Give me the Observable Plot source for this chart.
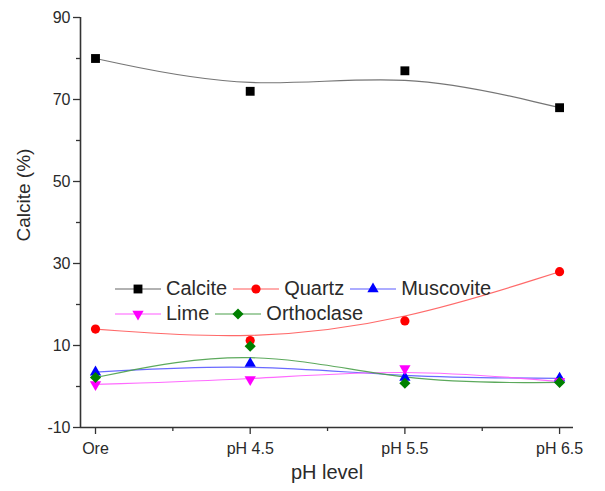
<!DOCTYPE html>
<html>
<head>
<meta charset="utf-8">
<script src="https://cdn.jsdelivr.net/npm/d3@7"></script>
<script src="https://cdn.jsdelivr.net/npm/@observablehq/plot@0.6"></script>
<style>
  html, body { margin: 0; padding: 0; background: #fff; }
  #wrap { position: relative; width: 605px; height: 491px; font-family: "Liberation Sans", Arial, sans-serif; }
  #legend { position: absolute; left: 115px; top: 276px; font-size: 20px; color: #2a2a2a; line-height: 25px; }
  .row { display: flex; align-items: center; white-space: nowrap; height: 25px; }
  .item { display: flex; align-items: center; margin-right: 6px; }
  .item svg { margin-right: 5px; }
</style>
</head>
<body>
<div id="wrap"><div id="legend"></div></div>
<script>
// ---- data ----
const categories = ["Ore", "pH 4.5", "pH 5.5", "pH 6.5"];
const calcite    = [80, 72, 77, 68];
const quartz     = [14, 11.2, 16, 28];
const muscovite  = [3.5, 5.6, 2.2, 2];
const lime       = [0.5, 1.7, 4.4, 1.2];
const orthoclase = [2.2, 9.8, 0.8, 1];
const seriesNames = ["Calcite", "Quartz", "Muscovite", "Lime", "Orthoclase"];
const yMajorTicks = [-10, 10, 30, 50, 70, 90];
const yMinorTicks = [0, 20, 40, 60, 80];
const xMinorTicks = [0.5, 1.5, 2.5];

// ---- styles ----
const styles = {
  Calcite:    {values: calcite,    symbol: "square",   fill: "#000000", line: "#666666", r: 5,   rotate: 0},
  Quartz:     {values: quartz,     symbol: "circle",   fill: "#ff0000", line: "#ff5a5a", r: 4.6, rotate: 0},
  Muscovite:  {values: muscovite,  symbol: "triangle", fill: "#0000ff", line: "#5a5aff", r: 4.2, rotate: 0},
  Lime:       {values: lime,       symbol: "triangle", fill: "#ff00ff", line: "#ff5aff", r: 4.2, rotate: 180},
  Orthoclase: {values: orthoclase, symbol: "diamond2", fill: "#008000", line: "#4aa04a", r: 5,   rotate: 0}
};

const xDomain = [-0.097, 3.09];
const yDomain = [-10, 90];

const marks = [];
marks.push(Plot.axisY(yMinorTicks, {tickSize: 4, tickFormat: () => "", label: null, stroke: "#333", strokeWidth: 1.3}));
marks.push(Plot.axisY(yMajorTicks, {tickSize: 7, tickPadding: 3, fontSize: 16, label: null, tickFormat: d => String(d),
  stroke: "#333", strokeWidth: 1.3, fill: "#2a2a2a"}));
marks.push(Plot.axisX(xMinorTicks, {tickSize: 4, tickFormat: () => "", label: null, stroke: "#333", strokeWidth: 1.3}));
marks.push(Plot.axisX(d3.range(categories.length), {tickSize: 7, tickPadding: 8, fontSize: 16, label: null,
  tickFormat: i => categories[i], stroke: "#333", strokeWidth: 1.3, fill: "#2a2a2a"}));
marks.push(Plot.ruleX([xDomain[0]], {stroke: "#333", strokeWidth: 1.6}));
marks.push(Plot.ruleY([yDomain[0]], {stroke: "#333", strokeWidth: 1.6}));

for (const name of seriesNames) {
  const s = styles[name];
  const data = s.values.map((v, i) => ({i, v}));
  marks.push(Plot.line(data, {x: "i", y: "v", curve: "basis", stroke: s.line, strokeWidth: 1.2, strokeOpacity: 0.9}));
}
for (const name of seriesNames) {
  const s = styles[name];
  const data = s.values.map((v, i) => ({i, v}));
  marks.push(Plot.dot(data, {x: "i", y: "v", symbol: () => s.symbol, fill: s.fill, stroke: "none", r: s.r, rotate: s.rotate}));
}

marks.push(Plot.text(["Calcite (%)"], {frameAnchor: "left", rotate: -90, dx: -57, dy: 19, fontSize: 19, fill: "#2a2a2a"}));
marks.push(Plot.text(["pH level"], {frameAnchor: "bottom", dy: 51, fontSize: 20, fill: "#2a2a2a"}));

const chart = Plot.plot({
  width: 605,
  height: 491,
  marginLeft: 80,
  marginRight: 32,
  marginTop: 17,
  marginBottom: 64,
  x: {domain: xDomain, axis: null},
  y: {domain: yDomain, axis: null},
  style: {fontFamily: "Liberation Sans, Arial, sans-serif", fontSize: "16px", background: "white", overflow: "visible"},
  marks
});
document.getElementById("wrap").prepend(chart);

// ---- legend (two rows, inside plot) ----
const legendRows = [["Calcite", "Quartz", "Muscovite"], ["Lime", "Orthoclase"]];
const legend = document.getElementById("legend");
for (const row of legendRows) {
  const rowDiv = document.createElement("div");
  rowDiv.className = "row";
  for (const name of row) {
    const s = styles[name];
    const item = document.createElement("div");
    item.className = "item";
    const symbolType = {square: d3.symbolSquare, circle: d3.symbolCircle, triangle: d3.symbolTriangle, diamond2: d3.symbolDiamond2}[s.symbol];
    const path = d3.symbol(symbolType, Math.PI * s.r * s.r)();
    item.innerHTML = `<svg width="46" height="14" viewBox="0 0 46 14">
      <line x1="0" x2="46" y1="7" y2="7" stroke="${s.line}" stroke-width="1.2"/>
      <path d="${path}" fill="${s.fill}" transform="translate(23,7) rotate(${s.rotate})"/></svg><span>${name}</span>`;
    rowDiv.appendChild(item);
  }
  legend.appendChild(rowDiv);
}
</script>
</body>
</html>
